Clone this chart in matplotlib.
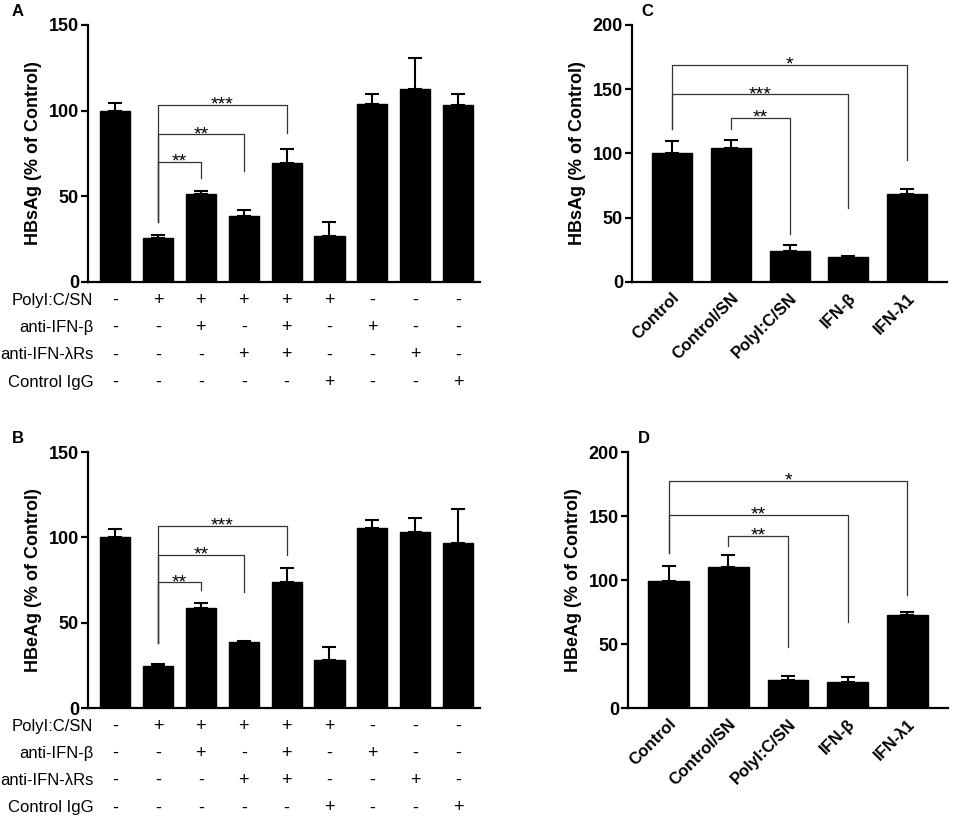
import matplotlib
matplotlib.use('Agg')
import matplotlib.pyplot as plt
import matplotlib.transforms as mtransforms

plt.rcParams['font.family'] = ['Liberation Sans', 'DejaVu Sans']

# panels A and B: 9 treatment groups
ab_rows = ['PolyI:C/SN', 'anti-IFN-β', 'anti-IFN-λRs', 'Control IgG']
ab_table = [
    ['-', '+', '+', '+', '+', '+', '-', '-', '-'],
    ['-', '-', '+', '-', '+', '-', '+', '-', '-'],
    ['-', '-', '-', '+', '+', '-', '-', '+', '-'],
    ['-', '-', '-', '-', '-', '+', '-', '-', '+'],
]
a_mean = [99.7, 25.9, 51.6, 38.6, 69.7, 26.9, 103.8, 112.6, 103.4]
a_err = [4.5, 1.4, 1.6, 3.3, 8.2, 8.1, 6.2, 17.9, 6.6]
b_mean = [100.0, 24.4, 58.6, 38.4, 73.6, 28.2, 105.6, 103.2, 96.8]
b_err = [4.6, 1.3, 2.8, 1.1, 8.2, 7.4, 4.4, 8.2, 20.1]

# panels C and D: 5 groups
cd_labels = ['Control', 'Control/SN', 'PolyI:C/SN', 'IFN-β', 'IFN-λ1']
c_mean = [100.5, 104.4, 23.9, 19.5, 68.8]
c_err = [9.4, 6.0, 4.7, 0.5, 3.9]
d_mean = [99.5, 110.4, 22.2, 20.4, 72.8]
d_err = [11.5, 9.2, 2.8, 3.9, 2.2]

# brackets: (left group, left bottom, right group, right bottom, height, stars)
a_brackets = [(1, 35, 2, 60.5, 70.1, '**'), (1, 35, 3, 65, 86.3, '**'), (1, 35, 4, 86.7, 103.3, '***')]
b_brackets = [(1, 38, 2, 69, 73.6, '**'), (1, 38, 3, 68, 89.6, '**'), (1, 38, 4, 89.6, 106.6, '***')]
c_brackets = [(0, 119, 4, 94.8, 168.8, '*'), (0, 119, 3, 57.9, 146.2, '***'), (1, 119, 2, 37.7, 128, '**')]
d_brackets = [(0, 120.9, 4, 88.3, 177.5, '*'), (0, 120.9, 3, 67.4, 150.9, '**'), (1, 126.6, 2, 47.8, 134.5, '**')]

fig = plt.figure(figsize=(9.57, 8.19), dpi=100)


def style(ax, ymax, ystep, ylabel):
    ax.spines['top'].set_visible(False)
    ax.spines['right'].set_visible(False)
    ax.spines['left'].set_linewidth(1.6)
    ax.spines['bottom'].set_linewidth(1.6)
    ax.set_ylim(0, ymax)
    ax.set_yticks(range(0, ymax + 1, ystep))
    ax.tick_params(axis='y', width=1.6, length=5, pad=1.5, labelsize=13)
    for t in ax.get_yticklabels():
        t.set_fontweight('bold')
    ax.set_ylabel(ylabel, fontsize=13, fontweight='bold', labelpad=5)


def bars(ax, mean, err, width):
    x = list(range(len(mean)))
    ax.bar(x, mean, width=width, color='black', edgecolor='black', zorder=2)
    ax.errorbar(x, mean, yerr=[[0] * len(err), err], fmt='none', ecolor='black',
                elinewidth=1.5, capsize=5, capthick=1.5, zorder=3)


def brackets(ax, items):
    for l, lb, r, rb, h, s in items:
        ax.plot([l, l, r, r], [lb, h, h, rb], color='#333333', lw=0.9, zorder=4)
        ax.annotate(s, ((l + r) / 2, h), xytext=(0, -3.5), textcoords='offset points',
                    ha='center', va='baseline', fontsize=14)


def table(ax):
    trans = mtransforms.blended_transform_factory(ax.transData, ax.transAxes)
    for i, name in enumerate(ab_rows):
        y = -0.072 - i * 0.106
        ax.text(0.013, y, name, transform=ax.transAxes, ha='right', va='center', fontsize=12)
        for j, s in enumerate(ab_table[i]):
            ax.text(j, y, s, transform=trans, ha='center', va='center', fontsize=13)


for pos, mean, err, lab, br, tag in [
        ([0.092, 0.6557, 0.4096, 0.3138], a_mean, a_err, 'HBsAg (% of Control)', a_brackets, 'A'),
        ([0.092, 0.1355, 0.4096, 0.3126], b_mean, b_err, 'HBeAg (% of Control)', b_brackets, 'B')]:
    ax = fig.add_axes(pos)
    bars(ax, mean, err, 0.70)
    style(ax, 150, 50, lab)
    ax.set_xlim(-0.63, 8.51)
    ax.set_xticks([])
    brackets(ax, br)
    table(ax)
    ax.text(-0.18, 1.025, tag, transform=ax.transAxes, fontsize=12, fontweight='bold',
            ha='center', va='bottom')

for pos, mean, err, lab, br, tag in [
        ([0.6604, 0.6557, 0.3292, 0.3138], c_mean, c_err, 'HBsAg (% of Control)', c_brackets, 'C'),
        ([0.6562, 0.1355, 0.3344, 0.3122], d_mean, d_err, 'HBeAg (% of Control)', d_brackets, 'D')]:
    ax = fig.add_axes(pos)
    bars(ax, mean, err, 0.68)
    style(ax, 200, 50, lab)
    ax.set_xlim(-0.68, 4.68)
    ax.set_xticks(range(len(cd_labels)))
    ax.set_xticklabels(cd_labels, rotation=45, ha='right', rotation_mode='anchor',
                       fontsize=12, fontweight='bold')
    ax.tick_params(axis='x', length=0, pad=6)
    brackets(ax, br)
    ax.text(0.05, 1.025, tag, transform=ax.transAxes, fontsize=12, fontweight='bold',
            ha='center', va='bottom')

fig.savefig('out.png', dpi=100)
